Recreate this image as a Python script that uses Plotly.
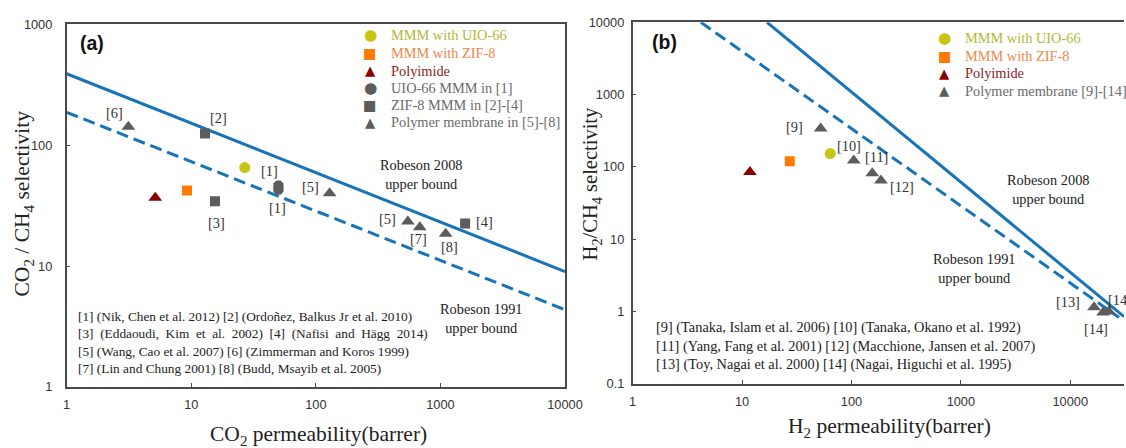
import numpy as np
import plotly.graph_objects as go

# ---------------- Panel (a): CO2 / CH4 ----------------
a_uio66_perm = [26.9]
a_uio66_sel = [65.2]
a_zif8_perm = [9.25]
a_zif8_sel = [42.1]
a_pi_perm = [5.14]
a_pi_sel = [36.8]
a_lit_uio_perm = [50.1, 50.1]          # UIO-66 MMM in [1]
a_lit_uio_sel = [46.3, 42.9]
a_lit_zif_perm = [12.9, 15.5, 1579]    # ZIF-8 MMM in [2]-[4]
a_lit_zif_sel = [125, 34.3, 22.5]
a_poly_perm = [3.13, 129, 548, 683, 1102]   # polymer membranes [5]-[8]
a_poly_sel = [142, 40.0, 23.4, 20.9, 18.5]
a_bound_perm = [1, 10000]
a_rob2008_sel = [390, 9.0]
a_rob1991_sel = [187, 4.35]

# ---------------- Panel (b): H2 / CH4 ----------------
b_uio66_perm = [64]
b_uio66_sel = [153]
b_zif8_perm = [27.3]
b_zif8_sel = [120]
b_pi_perm = [11.8]
b_pi_sel = [85]
b_poly_perm = [52.3, 105, 155, 186, 16500, 19950, 22480]   # [9]-[14]
b_poly_sel = [339, 123, 82, 65, 1.15, 0.97, 1.0]
b_rob2008_perm = [16.9, 31000]
b_rob2008_sel = [10000, 0.85]
b_rob1991_perm = [4.2, 27900]
b_rob1991_sel = [10000, 0.83]

a_xticks = [1, 10, 100, 1000, 10000]
a_yticks = [1, 10, 100, 1000]
b_xticks = [1, 10, 100, 1000, 10000]
b_yticks = [0.1, 1, 10, 100, 1000, 10000]

a_legend = ["MMM with UIO-66", "MMM with ZIF-8", "Polyimide",
            "UIO-66 MMM in [1]", "ZIF-8 MMM in [2]-[4]", "Polymer membrane in [5]-[8]"]
b_legend = ["MMM with UIO-66", "MMM with ZIF-8", "Polyimide", "Polymer membrane [9]-[14]"]

a_refs = ["[1] (Nik, Chen et al. 2012) [2] (Ordoñez, Balkus Jr et al. 2010)",
          "[3]\u00a0 (Eddaoudi,\u00a0 Kim\u00a0 et\u00a0 al.\u00a0 2002)\u00a0 [4]\u00a0 (Nafisi\u00a0 and\u00a0 Hägg\u00a0 2014)",
          "[5] (Wang, Cao et al. 2007) [6] (Zimmerman and Koros 1999)",
          "[7] (Lin and Chung 2001) [8] (Budd, Msayib et al. 2005)"]
b_refs = ["[9] (Tanaka, Islam et al. 2006) [10] (Tanaka, Okano et al. 1992)",
          "[11] (Yang, Fang et al. 2001) [12] (Macchione, Jansen et al. 2007)",
          "[13] (Toy, Nagai et al. 2000) [14] (Nagai, Higuchi et al. 1995)"]

SERIF = "Liberation Serif, Times New Roman, serif"
SANS = "Liberation Sans, Arial, sans-serif"
BLUE = "#1874b8"
C_UIO, C_UIO_T = "#c5c512", "#b3b838"
C_ZIF, C_ZIF_T = "#ff7b00", "#f0874a"
C_PI, C_PI_T = "#8b0000", "#8b1c1c"
C_GREY, C_GREY_T = "#5c5c5c", "#6a6a6a"
DASH = "12px,6px"

# page geometry (target picture is 1126 x 448)
RW, RH = 1126, 448
FIG_W, FIG_H = 1142, 456
SY = 464 / 448
TOP = 8
FS = 1.025   # font compensation


def P(rx, ry):
    """target-picture pixel -> paper fraction"""
    return rx / RW, 1 - (ry * SY - TOP) / FIG_H


def ydom(ry_top, ry_bot):
    return [P(0, ry_bot)[1], P(0, ry_top)[1]]


def pts(x, y, sym, size, color, xa, ya):
    return go.Scatter(x=x, y=y, mode="markers", xaxis=xa, yaxis=ya,
                      marker=dict(symbol=sym, size=size, color=color, line=dict(width=0)),
                      showlegend=False, hoverinfo="skip")


def bound(x, y, dash, xa, ya):
    return go.Scatter(x=x, y=y, mode="lines", xaxis=xa, yaxis=ya,
                      line=dict(color=BLUE, width=3, dash=dash),
                      showlegend=False, hoverinfo="skip")


fig = go.Figure()
# panel a
fig.add_trace(bound(a_bound_perm, a_rob2008_sel, "solid", "x", "y"))
fig.add_trace(bound(a_bound_perm, a_rob1991_sel, DASH, "x", "y"))
fig.add_trace(pts(a_lit_uio_perm, a_lit_uio_sel, "octagon", 11, C_GREY, "x", "y"))
fig.add_trace(pts(a_lit_zif_perm, a_lit_zif_sel, "square", 10, C_GREY, "x", "y"))
fig.add_trace(pts(a_poly_perm, a_poly_sel, "triangle-up", 12, C_GREY, "x", "y"))
fig.add_trace(pts(a_uio66_perm, a_uio66_sel, "circle", 11, C_UIO, "x", "y"))
fig.add_trace(pts(a_zif8_perm, a_zif8_sel, "square", 10, C_ZIF, "x", "y"))
fig.add_trace(pts(a_pi_perm, a_pi_sel, "triangle-up", 12, C_PI, "x", "y"))
# panel b
fig.add_trace(bound(b_rob2008_perm, b_rob2008_sel, "solid", "x2", "y2"))
fig.add_trace(bound(b_rob1991_perm, b_rob1991_sel, DASH, "x2", "y2"))
fig.add_trace(pts(b_poly_perm, b_poly_sel, "triangle-up", 12, C_GREY, "x2", "y2"))
fig.add_trace(pts(b_uio66_perm, b_uio66_sel, "circle", 11, C_UIO, "x2", "y2"))
fig.add_trace(pts(b_zif8_perm, b_zif8_sel, "square", 10, C_ZIF, "x2", "y2"))
fig.add_trace(pts(b_pi_perm, b_pi_sel, "triangle-up", 12, C_PI, "x2", "y2"))


def fmt(v):
    return "0.1" if v < 1 else str(int(v))


def axis(domain, rng, ticks, mirror, standoff):
    return dict(type="log", domain=domain, range=rng, showgrid=False, zeroline=False,
                showline=True, linecolor="#4a4a4a", linewidth=1.5, mirror=mirror,
                ticks="inside", ticklen=4, tickcolor="#4a4a4a", tickwidth=1,
                tickvals=ticks, ticktext=[fmt(t) for t in ticks],
                tickfont=dict(family=SANS, size=12.5 * FS, color="#333"),
                ticklabelstandoff=standoff)


def txt(text, rx, ry, size=14, color="#333", family=SERIF, xanchor="center",
        yanchor="middle", angle=0, align="center"):
    x, y = P(rx, ry)
    return dict(text=text, x=x, y=y, xref="paper", yref="paper", showarrow=False,
                xanchor=xanchor, yanchor=yanchor, textangle=angle, align=align,
                font=dict(family=family, size=size * FS, color=color))


ann = []
# panel labels
ann.append(txt("<b>(a)</b>", 74, 43, size=19, color="#111", family=SANS, xanchor="left"))
ann.append(txt("<b>(b)</b>", 649, 42, size=19, color="#111", family=SANS, xanchor="left"))

# axis titles
ann.append(txt("CO<sub>2</sub> / CH<sub>4</sub> selectivity", 20, 203, size=21, color="#222", angle=-90))
ann.append(txt("CO<sub>2</sub> permeability(barrer)", 316, 435, size=21, color="#222"))
ann.append(txt("H<sub>2</sub>/CH<sub>4</sub> selectivity", 591, 183, size=20, color="#222", angle=-90))
ann.append(txt("H<sub>2</sub> permeability(barrer)", 890, 427, size=21, color="#222"))

# legends (symbol glyph + text)
a_sym = [("●", C_UIO, 15), ("■", C_ZIF, 14), ("▲", C_PI, 13),
         ("●", C_GREY, 15), ("■", C_GREY, 14), ("▲", C_GREY, 13)]
a_txtc = [C_UIO_T, C_ZIF_T, C_PI_T, C_GREY_T, C_GREY_T, C_GREY_T]
a_rows = [35, 52.5, 70.5, 88, 105, 122]
for (g, c, s), lab, tc, yy in zip(a_sym, a_legend, a_txtc, a_rows):
    ann.append(txt(g, 368, yy, size=s, color=c, family="DejaVu Sans"))
    ann.append(txt(lab, 387, yy, size=14, color=tc, xanchor="left"))

b_sym = [("●", C_UIO, 15), ("■", C_ZIF, 14), ("▲", C_PI, 13), ("▲", C_GREY, 13)]
b_txtc = [C_UIO_T, C_ZIF_T, C_PI_T, C_GREY_T]
b_rows = [37.5, 55.5, 73, 90.5]
for (g, c, s), lab, tc, yy in zip(b_sym, b_legend, b_txtc, b_rows):
    ann.append(txt(g, 946, yy, size=s, color=c, family="DejaVu Sans"))
    ann.append(txt(lab, 964, yy, size=14, color=tc, xanchor="left"))

# Robeson bound labels
ann.append(txt("Robeson 2008<br>upper bound", 419, 174, size=14, color="#222"))
ann.append(txt("Robeson 1991<br>upper bound", 480, 317.5, size=14, color="#222"))
ann.append(txt("Robeson 2008<br>upper bound", 1050, 188.5, size=14, color="#222"))
ann.append(txt("Robeson 1991<br>upper bound", 975, 267.5, size=14, color="#222"))

# point reference labels
a_lab = [("[6]", 111, 112.5), ("[2]", 215.5, 118), ("[1]", 266.5, 170.5), ("[1]", 275, 207.5),
         ("[3]", 214, 222), ("[5]", 308.5, 186), ("[5]", 386, 218.3), ("[7]", 416.5, 238.5),
         ("[8]", 448.3, 246.7), ("[4]", 483.5, 221)]
for t, x, y in a_lab:
    ann.append(txt(t, x, y, size=14, color="#333"))
b_lab = [("[9]", 795, 126.7), ("[10]", 850, 145.7), ("[11]", 876.7, 156), ("[12]", 903.3, 186.7),
         ("[13]", 1070, 301.7), ("[14]", 1098, 328)]
for t, x, y in b_lab:
    ann.append(txt(t, x, y, size=14, color="#333"))
ann.append(txt("[14]", 1108, 299.3, size=14, color="#333", xanchor="left"))

# citation blocks
ann.append(txt("<br>".join(a_refs), 72, 341.7, size=13, color="#222", xanchor="left", align="left"))
ann.append(txt("<br>".join(b_refs), 653, 345, size=14, color="#222", xanchor="left", align="left"))

fig.update_layout(
    width=FIG_W, height=FIG_H, margin=dict(l=0, r=0, t=0, b=0),
    paper_bgcolor="white", plot_bgcolor="white", showlegend=False,
    xaxis=axis([63 / RW, 564 / RW], [0, 4], a_xticks, True, 5),
    yaxis=axis(ydom(24, 386), [0, 3], a_yticks, True, 10),
    xaxis2=axis([632 / RW, 1.0], [0, 4.491], b_xticks, True, 5),
    yaxis2=axis(ydom(22, 383), [-1, 4], b_yticks, False, 4),
    annotations=ann,
)
fig.update_layout(xaxis2=dict(anchor="y2"), yaxis2=dict(anchor="x2"))

fig.write_html("out.html", config={"displayModeBar": False},
               post_script="document.body.style.margin='0';document.body.style.overflow='hidden';")
